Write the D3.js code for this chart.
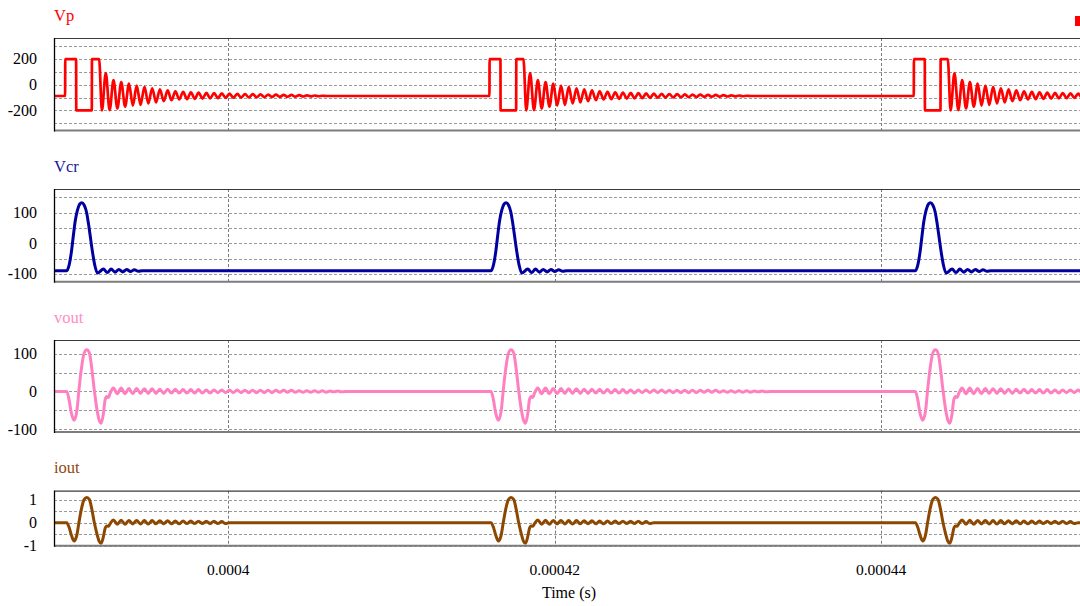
<!DOCTYPE html>
<html>
<head>
<meta charset="utf-8">
<script src="https://cdn.jsdelivr.net/npm/d3@7"></script>
<style>
  body { margin: 0; background: #fff; }
  svg { display: block; font-family: "Liberation Serif", "Times New Roman", serif; }
</style>
</head>
<body>
<svg id="chart" width="1080" height="606"></svg>
<script>
// ---- time base -------------------------------------------------------
// start of each switching event (seconds)
const eventStarts = [390e-6, 416e-6, 442e-6];
// visible time window (seconds)
const timeWindow = [389.32e-6, 452.43e-6];
const timeTicks = [0.0004, 0.00042, 0.00044];
const timeTickLabels = ["0.0004", "0.00042", "0.00044"];
// half period of the resonant ringing after each event (microseconds)
const ringHalfPeriodUs = 0.237;

// ---- Vp : primary voltage --------------------------------------------
const vpRest = -88;
const vpShapeUs = [0, 0.01, 0.674, 0.684, 1.636, 1.646, 2.083];
const vpShapeV  = [-88, 200, 200, -200, -200, 200, 200];
const vpRingStartUs = 2.255;
const vpRing = [-200, 90, -198, 35, -185, 20, -172, 8, -163, -8, -157, -16, -146, -28,
  -138, -36, -129, -44, -121, -52, -115, -56, -112, -59, -110, -61, -108, -64, -106, -66,
  -104, -68, -103, -70, -101, -71, -100, -73, -99, -74, -98, -76, -97, -77, -96, -78,
  -95, -79, -94, -80, -93, -81, -92, -83, -91, -84, -90, -86];
const vpTicks = [-200, 0, 200];
const vpGrid = [-300, -200, -100, 0, 100, 200, 300];

// ---- Vcr : resonant capacitor voltage --------------------------------
const vcrRest = -89;
const vcrShapeUs = [0.102, 0.245, 0.388, 0.510, 0.613, 0.756, 0.899, 1.021, 1.164, 1.307, 1.430, 1.532, 1.675, 1.818, 1.981];
const vcrShapeV  = [-89, -71, -27, 27, 70, 108, 128, 132, 125, 103, 65, 27, -27, -71, -97];
const vcrRingStartUs = 2.35;
const vcrRing = [-84, -95, -84, -94, -85, -93, -85, -92, -86, -91];
const vcrTicks = [-100, 0, 100];
const vcrGrid = [-100, -50, 0, 50, 100, 150];

// ---- vout : output voltage -------------------------------------------
const voutRest = 0;
const voutShapeUs = [0.102, 0.245, 0.388, 0.551, 0.715, 0.858, 1.001, 1.164, 1.328, 1.491, 1.634, 1.777, 1.940, 2.083, 2.206, 2.349, 2.451, 2.553, 2.655, 2.757];
const voutShapeV  = [0, -22, -58, -76, -53, 8, 61, 101, 110, 101, 61, 8, -44, -75, -84, -58, -22, -13, -16, -5];
const voutRingStartUs = 2.96;
const voutRing = [9, -6, 9, -6, 8, -6, 8, -5, 7, -5, 7, -5, 6, -5, 6, -4, 6, -4, 5, -4,
  5, -4, 5, -4, 4, -4, 4, -3, 4, -3, 4, -3, 4, -3, 3, -3, 3, -3, 3, -3, 3, -3, 3, -2,
  3, -2, 3, -2, 2, -2, 2, -2, 2, -2, 2, -2, 1, -1, 1, -1];
const voutTicks = [-100, 0, 100];
const voutGrid = [-100, -50, 0, 50, 100];

// ---- iout : output current -------------------------------------------
const ioutRest = 0;
const ioutShapeUs = [0.102, 0.245, 0.388, 0.551, 0.715, 0.858, 1.001, 1.164, 1.328, 1.491, 1.634, 1.777, 1.940, 2.083, 2.206, 2.349, 2.451, 2.553, 2.655, 2.757];
const ioutShapeV  = [0, -0.2, -0.55, -0.8, -0.55, 0.05, 0.6, 1.0, 1.09, 1.0, 0.6, 0.05, -0.45, -0.8, -0.9, -0.6, -0.25, -0.14, -0.16, -0.05];
const ioutRingStartUs = 2.96;
const ioutRing = [0.12, -0.07, 0.11, -0.07, 0.10, -0.06, 0.10, -0.06, 0.09, -0.06, 0.09, -0.05,
  0.08, -0.05, 0.08, -0.05, 0.07, -0.05, 0.07, -0.04, 0.07, -0.04, 0.06, -0.04, 0.06, -0.04,
  0.06, -0.04, 0.05, -0.04];
const ioutTicks = [-1, 0, 1];
const ioutGrid = [-1, -0.5, 0, 0.5, 1];

// ---- assemble each trace over all switching events ----------------------
function buildTrace(rest, shapeUs, shapeV, ringStartUs, ring) {
  const pts = [[timeWindow[0], rest]];
  eventStarts.forEach(s => {
    pts.push([s, rest]);
    shapeUs.forEach((t, i) => pts.push([s + t * 1e-6, shapeV[i]]));
    ring.forEach((v, k) => pts.push([s + (ringStartUs + k * ringHalfPeriodUs) * 1e-6, v]));
    pts.push([s + (ringStartUs + ring.length * ringHalfPeriodUs) * 1e-6, rest]);
  });
  pts.push([timeWindow[1] + 2e-6, rest]);
  return pts;
}

const panels = [
  { name: "Vp",   color: "#ff0000", titleColor: "#ff0000", top: 38,    bottom: 130.5, domain: [-357, 364],
    ticks: vpTicks, grid: vpGrid, width: 2.7,
    data: buildTrace(vpRest, vpShapeUs, vpShapeV, vpRingStartUs, vpRing), titleY: 21 },
  { name: "Vcr",  color: "#0000a0", titleColor: "#1a1a9a", top: 189,   bottom: 281.7, domain: [-125, 177],
    ticks: vcrTicks, grid: vcrGrid, width: 3,
    data: buildTrace(vcrRest, vcrShapeUs, vcrShapeV, vcrRingStartUs, vcrRing), titleY: 172 },
  { name: "vout", color: "#ff80c0", titleColor: "#ff8cc6", top: 340,   bottom: 432,   domain: [-107, 136],
    ticks: voutTicks, grid: voutGrid, width: 3,
    data: buildTrace(voutRest, voutShapeUs, voutShapeV, voutRingStartUs, voutRing), titleY: 323 },
  { name: "iout", color: "#8c4800", titleColor: "#8c4a10", top: 490.7, bottom: 545.7, domain: [-1.0, 1.39],
    ticks: ioutTicks, grid: ioutGrid, width: 3,
    data: buildTrace(ioutRest, ioutShapeUs, ioutShapeV, ioutRingStartUs, ioutRing), titleY: 473 }
];

const svg = d3.select("#chart");
const left = 54, right = 1084;
const x = d3.scaleLinear().domain(timeWindow).range([left, right]);

panels.forEach((p, i) => {
  const y = d3.scaleLinear().domain(p.domain).range([p.bottom, p.top]);
  const g = svg.append("g");

  g.append("rect").attr("x", left).attr("y", p.top)
    .attr("width", right - left).attr("height", p.bottom - p.top).attr("fill", "#fff");

  g.append("clipPath").attr("id", "clip" + i)
    .append("rect").attr("x", left + 1).attr("y", p.top + 1)
    .attr("width", right - left - 1).attr("height", p.bottom - p.top - 2);

  // horizontal grid
  g.selectAll(".hg").data(p.grid).join("line")
    .attr("x1", left).attr("x2", right)
    .attr("y1", d => Math.round(y(d)) + 0.5).attr("y2", d => Math.round(y(d)) + 0.5)
    .attr("stroke", "#9a9a9a").attr("stroke-width", 1).attr("stroke-dasharray", "3,2");

  // vertical grid
  g.selectAll(".vg").data(timeTicks).join("line")
    .attr("x1", d => Math.round(x(d)) + 0.5).attr("x2", d => Math.round(x(d)) + 0.5)
    .attr("y1", p.top).attr("y2", p.bottom)
    .attr("stroke", "#7a7a7a").attr("stroke-width", 1).attr("stroke-dasharray", "3,2");

  // trace
  const line = d3.line().x(d => x(d[0])).y(d => y(d[1])).curve(d3.curveMonotoneX);
  g.append("path").datum(p.data)
    .attr("clip-path", `url(#clip${i})`)
    .attr("d", line).attr("fill", "none")
    .attr("stroke", p.color).attr("stroke-width", p.width)
    .attr("stroke-linejoin", "round");

  // frame
  g.append("line").attr("x1", left).attr("x2", right).attr("y1", p.top + 0.5).attr("y2", p.top + 0.5)
    .attr("stroke", "#3a3a3a").attr("stroke-width", 1.2);
  g.append("line").attr("x1", left).attr("x2", right).attr("y1", p.bottom).attr("y2", p.bottom)
    .attr("stroke", "#7c7c7c").attr("stroke-width", 2);
  g.append("line").attr("x1", left + 0.5).attr("x2", left + 0.5).attr("y1", p.top).attr("y2", p.bottom + 1)
    .attr("stroke", "#000").attr("stroke-width", 1.3);

  // y tick labels (plain hyphen minus)
  g.selectAll(".yl").data(p.ticks).join("text")
    .attr("x", 37).attr("y", d => y(d)).attr("dy", "0.34em")
    .attr("text-anchor", "end").attr("font-size", 16).attr("fill", "#000")
    .text(d => String(d));

  // panel title
  svg.append("text").attr("x", left).attr("y", p.titleY)
    .attr("font-size", 16.5).attr("fill", p.titleColor).text(p.name);
});

// time axis labels
svg.selectAll(".xl").data(timeTicks).join("text")
  .attr("x", d => x(d)).attr("y", 575)
  .attr("text-anchor", "middle").attr("font-size", 15.5).attr("fill", "#000")
  .text((d, i) => timeTickLabels[i]);

svg.append("text").attr("x", (left + right) / 2).attr("y", 598)
  .attr("text-anchor", "middle").attr("font-size", 16).attr("fill", "#000")
  .text("Time (s)");

// legend swatch at the top right
svg.append("rect").attr("x", 1075).attr("y", 16).attr("width", 10).attr("height", 10)
  .attr("fill", "#ff0000");
</script>
</body>
</html>
